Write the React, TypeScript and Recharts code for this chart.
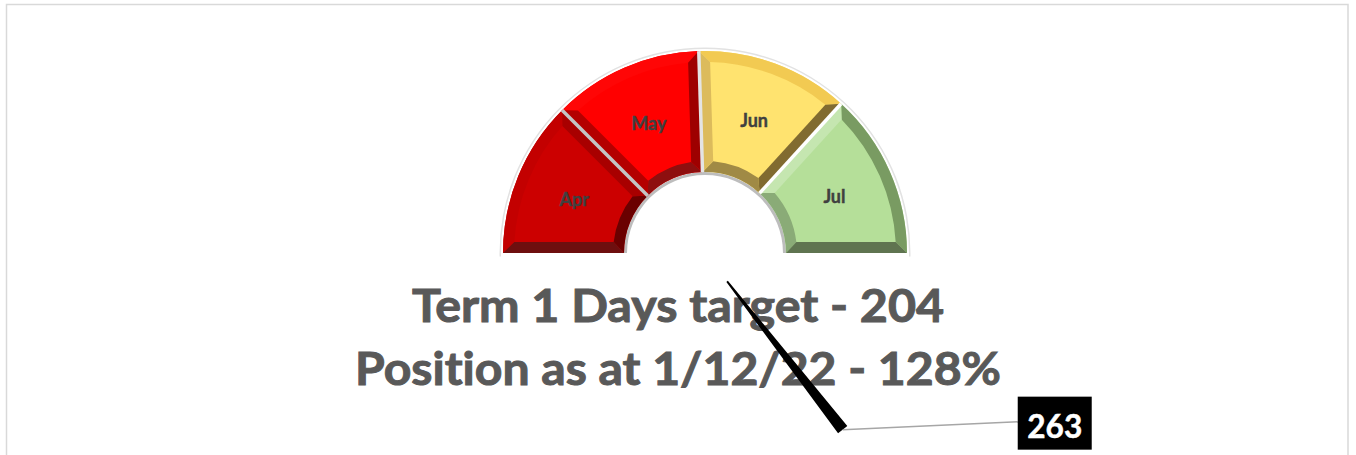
import React from 'react';
import { PieChart, Pie, Cell } from 'recharts';

// ---- data ----
const months = ['Apr', 'May', 'Jun', 'Jul'];
const monthDays = [51, 49, 50, 54];
const targetDays = 204;
const actualDays = 263;
const titleLines = ['Term 1 Days target - 204', 'Position as at 1/12/22 - 128%'];

// ---- styles ----
const faceColors = ['#cc0000', '#ff0000', '#ffe36f', '#b5df99'];
const bevelStyles = [
  { outer: '#c30000', inner: '#6a0000', start: '#6e0f0f', end: '#a80000', sep: '' },
  { outer: '#ff0606', inner: '#8e0f0f', start: '#b40000', end: '#9e0000', sep: '#c4c4c4' },
  { outer: '#f2ca52', inner: '#a08a45', start: '#dcbb5c', end: '#816b30', sep: '#e4e4e4' },
  { outer: '#799b62', inner: '#8aab77', start: '#c5e6b0', end: '#5f7450', sep: '#ffffff' },
];
const NEEDLE_W = 3.4;
const BEVEL = 11;
const CX = 705;
const CY = 253;
const R_OUT = 202;
const R_IN = 81;

const RAD = Math.PI / 180;
const polar = (cx: number, cy: number, r: number, a: number) => ({
  x: cx + r * Math.cos(a * RAD),
  y: cy - r * Math.sin(a * RAD),
});
const pt = (p: { x: number; y: number }) => `${p.x.toFixed(2)},${p.y.toFixed(2)}`;

const gaugeData = months.map((m, i) => ({ name: m, value: monthDays[i] }));
const needleData = [
  { name: 'before', value: actualDays - NEEDLE_W / 2 },
  { name: 'needle', value: NEEDLE_W },
  { name: 'after', value: 2 * targetDays - actualDays - NEEDLE_W / 2 },
];
const ringData = [{ name: 'ring', value: 1 }];

const FONT = "Lato, 'Open Sans', sans-serif";
const NO_LIGA: React.CSSProperties = { fontVariantLigatures: 'none', fontFeatureSettings: '"liga" 0' };

const renderBevel = (p: any) => {
  const { cx, cy, innerRadius: ri, outerRadius: ro, startAngle: a1, endAngle: a2, index, name } = p;
  const st = bevelStyles[index];
  const b = BEVEL;
  const dir = a2 < a1 ? -1 : 1;
  const dO = Math.asin(b / (ro - b)) / RAD;
  const dI = Math.asin(b / (ri + b)) / RAD;
  const O1 = polar(cx, cy, ro, a1);
  const O2 = polar(cx, cy, ro, a2);
  const I1 = polar(cx, cy, ri, a1);
  const I2 = polar(cx, cy, ri, a2);
  const O1i = polar(cx, cy, ro - b, a1 + dir * dO);
  const O2i = polar(cx, cy, ro - b, a2 - dir * dO);
  const I1i = polar(cx, cy, ri + b, a1 + dir * dI);
  const I2i = polar(cx, cy, ri + b, a2 - dir * dI);
  const sw = dir < 0 ? 1 : 0;
  const outer = `M${pt(O1)} A${ro},${ro} 0 0 ${sw} ${pt(O2)} L${pt(O2i)} A${ro - b},${ro - b} 0 0 ${1 - sw} ${pt(O1i)} Z`;
  const inner = `M${pt(I1)} A${ri},${ri} 0 0 ${sw} ${pt(I2)} L${pt(I2i)} A${ri + b},${ri + b} 0 0 ${1 - sw} ${pt(I1i)} Z`;
  const startSide = `M${pt(O1)} L${pt(I1)} L${pt(I1i)} L${pt(O1i)} Z`;
  const endSide = `M${pt(O2)} L${pt(I2)} L${pt(I2i)} L${pt(O2i)} Z`;
  const mid = polar(cx, cy, (ri + ro) / 2, p.midAngle);
  return (
    <g key={`bevel-${index}`}>
      <path d={outer} fill={st.outer} />
      <path d={inner} fill={st.inner} />
      <path d={startSide} fill={st.start} />
      <path d={endSide} fill={st.end} />
      {st.sep ? (
        <line x1={I1.x} y1={I1.y} x2={O1.x} y2={O1.y} stroke={st.sep} strokeWidth={3.5} />
      ) : null}
      <text
        x={mid.x}
        y={mid.y}
        textAnchor="middle"
        dominantBaseline="central"
        fill="#404040"
        stroke="#404040"
        strokeWidth={0.4}
        fontFamily={FONT}
        fontWeight={700}
        fontSize={18}
      >
        {name}
      </text>
    </g>
  );
};

const renderNeedleLabel = (p: any) => {
  if (p.index !== 1) return null;
  const tip = polar(p.cx, p.cy, p.outerRadius, p.midAngle);
  const bx = tip.x + 175;
  const by = tip.y - 8;
  return (
    <g key="needle-label">
      <line x1={tip.x} y1={tip.y} x2={bx} y2={by} stroke="#a6a6a6" strokeWidth={1.5} />
      <rect x={bx} y={by - 25} width={74} height={53} fill="#000000" />
      <text
        x={bx + 37}
        y={by + 3}
        textAnchor="middle"
        dominantBaseline="central"
        fill="#ffffff"
        stroke="#ffffff"
        strokeWidth={0.5}
        fontFamily={FONT}
        fontWeight={700}
        fontSize={33}
        textLength={55}
        lengthAdjust="spacingAndGlyphs"
      >
        {actualDays}
      </text>
    </g>
  );
};

export default function App() {
  return (
    <div style={{ position: 'absolute', left: 0, top: 0, width: 1356, height: 455, background: '#fff', overflow: 'hidden' }}>
      <svg width={1356} height={455} style={{ position: 'absolute', left: 0, top: 0 }}>
        <rect x={6.5} y={4.5} width={1341.5} height={480} fill="#ffffff" stroke="#d9d9d9" strokeWidth={1.5} />
        <text
          x={678}
          y={322}
          textAnchor="middle"
          fill="#595959"
          stroke="#595959"
          strokeWidth={1}
          fontFamily={FONT}
          fontWeight={700}
          fontSize={46}
          textLength={532}
          lengthAdjust="spacingAndGlyphs"
          style={NO_LIGA}
        >
          {titleLines[0]}
        </text>
        <text
          x={678}
          y={385}
          textAnchor="middle"
          fill="#595959"
          stroke="#595959"
          strokeWidth={1}
          fontFamily={FONT}
          fontWeight={700}
          fontSize={46}
          textLength={646}
          lengthAdjust="spacingAndGlyphs"
          style={NO_LIGA}
        >
          {titleLines[1]}
        </text>
      </svg>
      <div style={{ position: 'absolute', left: 0, top: 0 }}>
        <PieChart width={1356} height={455} margin={{ top: 0, right: 0, bottom: 0, left: 0 }}>
          <Pie
            data={ringData}
            dataKey="value"
            cx={CX}
            cy={CY}
            startAngle={181}
            endAngle={-1}
            innerRadius={R_OUT + 2}
            outerRadius={R_OUT + 3.5}
            fill="#e2e2e2"
            stroke="none"
            isAnimationActive={false}
          />
          <Pie
            data={ringData}
            dataKey="value"
            cx={CX}
            cy={CY}
            startAngle={180}
            endAngle={0}
            innerRadius={R_IN - 3}
            outerRadius={R_IN}
            fill="#bdbdbd"
            stroke="none"
            isAnimationActive={false}
          />
          <Pie
            data={gaugeData}
            dataKey="value"
            nameKey="name"
            cx={CX}
            cy={CY}
            startAngle={180}
            endAngle={0}
            innerRadius={R_IN}
            outerRadius={R_OUT}
            stroke="none"
            label={renderBevel}
            labelLine={false}
            isAnimationActive={false}
          >
            {gaugeData.map((d, i) => (
              <Cell key={d.name} fill={faceColors[i]} />
            ))}
          </Pie>
          <Pie
            data={needleData}
            dataKey="value"
            cx={CX}
            cy={CY}
            startAngle={180}
            endAngle={-180}
            innerRadius={36}
            outerRadius={224}
            stroke="none"
            label={renderNeedleLabel}
            labelLine={false}
            isAnimationActive={false}
          >
            {needleData.map((d, i) => (
              <Cell key={d.name} fill={i === 1 ? '#000000' : 'transparent'} />
            ))}
          </Pie>
        </PieChart>
      </div>
    </div>
  );
}
